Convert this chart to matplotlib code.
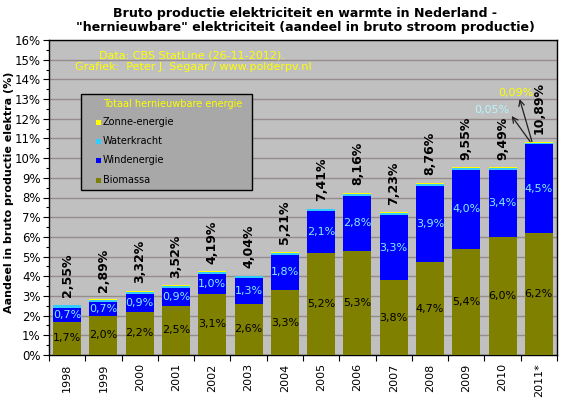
import matplotlib
matplotlib.use("Agg")
import matplotlib.pyplot as plt
from matplotlib.patches import Rectangle
import numpy as np

years = ["1998", "1999", "2000", "2001", "2002", "2003", "2004", "2005",
         "2006", "2007", "2008", "2009", "2010", "2011*"]
biomassa = [1.7, 2.0, 2.2, 2.5, 3.1, 2.6, 3.3, 5.2, 5.3, 3.8, 4.7, 5.4, 6.0, 6.2]
wind = [0.7, 0.7, 0.9, 0.9, 1.0, 1.3, 1.8, 2.1, 2.8, 3.3, 3.9, 4.0, 3.4, 4.5]
water = [0.12, 0.10, 0.12, 0.11, 0.11, 0.09, 0.10, 0.10, 0.10, 0.10, 0.10, 0.10, 0.08, 0.05]
zon = [0.03, 0.03, 0.04, 0.04, 0.04, 0.04, 0.04, 0.04, 0.04, 0.04, 0.04, 0.05, 0.05, 0.09]
totaal = [2.55, 2.89, 3.32, 3.52, 4.19, 4.04, 5.21, 7.41, 8.16, 7.23, 8.76, 9.55, 9.49, 10.89]
legend_labels = ["Zonne-energie", "Waterkracht", "Windenergie", "Biomassa"]

c_bio = "#808000"
c_wind = "#0000FF"
c_water = "#33CCFF"
c_zon = "#FFFF00"
c_bg = "#C0C0C0"
c_grid = "#978C8C"
c_windtxt = "#80F0FF"
legend_colors = [c_zon, c_water, c_wind, c_bio]

plt.rcParams['font.family'] = ['DejaVu Sans']

fig = plt.figure(figsize=(5.68, 3.98), dpi=100)
fig.patch.set_facecolor("white")
ax = fig.add_axes([49/568, 1-355/398, 508/568, 315/398])
ax.set_facecolor(c_bg)

x = np.arange(len(years))
w = 0.77
b1 = np.array(biomassa)
b2 = b1 + np.array(wind)
b3 = b2 + np.array(water)
ax.bar(x, biomassa, w, color=c_bio, zorder=3)
ax.bar(x, wind, w, bottom=b1, color=c_wind, zorder=3)
ax.bar(x, water, w, bottom=b2, color=c_water, zorder=3)
ax.bar(x, zon, w, bottom=b3, color=c_zon, zorder=3)

def fmt(v, d):
    return (f"{v:.{d}f}").replace(".", ",") + "%"

for i in range(len(years)):
    ax.text(x[i], biomassa[i] / 2, fmt(biomassa[i], 1), ha="center", va="center",
            fontsize=8, color="black", zorder=5)
    ax.text(x[i], b1[i] + wind[i] / 2, fmt(wind[i], 1), ha="center", va="center",
            fontsize=8, color=c_windtxt, zorder=5)
    top = b3[i] + zon[i]
    ax.text(x[i], top + 0.38, fmt(totaal[i], 2), ha="center", va="bottom",
            rotation=90, fontsize=9, fontweight="bold", color="black", zorder=5)

# annotations for 2011 water and solar
last = len(years) - 1
top_last = b3[last] + zon[last]
ax.text(last - 1.29, 12.44, fmt(water[last], 2), ha="center", va="center",
        fontsize=8, color="#B8F4FF", zorder=6)
ax.text(last - 0.63, 13.3, fmt(zon[last], 2), ha="center", va="center",
        fontsize=8, color=c_zon, zorder=6)
ax.annotate("", xy=(last - 0.75, 12.14), xytext=(last - 0.24, top_last),
            arrowprops=dict(arrowstyle="->", color="#202020", lw=0.9,
                            shrinkA=0, shrinkB=0), zorder=6)
ax.annotate("", xy=(last - 0.53, 13.0), xytext=(last - 0.19, top_last),
            arrowprops=dict(arrowstyle="->", color="#202020", lw=0.9,
                            shrinkA=0, shrinkB=0), zorder=6)

ax.set_xlim(-0.5, len(years) - 0.5)
ax.set_ylim(0, 16)
ax.set_yticks(np.arange(0, 17, 1))
ax.set_yticklabels([f"{v}%" for v in range(0, 17)], fontsize=8.5)
ax.set_yticks(np.arange(0, 16.01, 0.5), minor=True)
ax.yaxis.grid(True, which="major", color=c_grid, lw=1, zorder=0)
ax.tick_params(axis="y", which="major", direction="out", length=4, width=0.8, pad=2)
ax.tick_params(axis="y", which="minor", direction="out", length=2.5, width=0.8)

ax.set_xticks(np.arange(-0.5, len(years), 1))
ax.set_xticklabels([])
ax.set_xticks(x, minor=True)
ax.set_xticklabels(years, minor=True, rotation=90, fontsize=8)
ax.tick_params(axis="x", which="major", direction="out", length=4, width=0.8)
ax.tick_params(axis="x", which="minor", length=0, pad=6)
for s in ax.spines.values():
    s.set_color("black")
    s.set_linewidth(1)

fig.text(9/568, 1-192/398, "Aandeel in bruto productie elektra (%)", fontsize=8,
         fontweight="bold", rotation=90, ha="center", va="center")

# legend box (manual, in pixel-derived axes fractions)
def axx(px):
    return (px - 49) / 508
def axy(py):
    return (355 - py) / 315

ax.add_patch(Rectangle((axx(81), axy(190)), axx(252) - axx(81), axy(94) - axy(190),
                       transform=ax.transAxes, facecolor="#A8A8A8",
                       edgecolor="black", lw=1, zorder=7))
ax.text(axx(103), axy(104), "Totaal hernieuwbare energie", transform=ax.transAxes,
        ha="left", va="center", fontsize=7, color=c_zon, zorder=8)
for lbl, col, py in zip(legend_labels, legend_colors, [122, 141, 160, 180]):
    ax.add_patch(Rectangle((axx(96), axy(py + 2.5)), axx(101) - axx(96), axy(py - 2.5) - axy(py + 2.5),
                           transform=ax.transAxes, facecolor=col, edgecolor="none",
                           zorder=8))
    ax.text(axx(103), axy(py), lbl, transform=ax.transAxes, ha="left", va="center",
            fontsize=7, color="black", zorder=8)

fig.text(192/568, 1-55/398, "Data: CBS StatLine (26-11-2012).", ha="center",
         va="center", fontsize=8, color=c_zon)
fig.text(193/568, 1-67/398, "Grafiek:  Peter J. Segaar / www.polderpv.nl", ha="center",
         va="center", fontsize=8, color=c_zon)

fig.text(305/568, 1-13/398, "Bruto productie elektriciteit en warmte in Nederland -",
         ha="center", va="center", fontsize=9.1, fontweight="bold")
fig.text(305/568, 1-28/398,
         "\"hernieuwbare\" elektriciteit (aandeel in bruto stroom productie)",
         ha="center", va="center", fontsize=9.1, fontweight="bold")

fig.savefig("out.png", dpi=100, facecolor="white")
